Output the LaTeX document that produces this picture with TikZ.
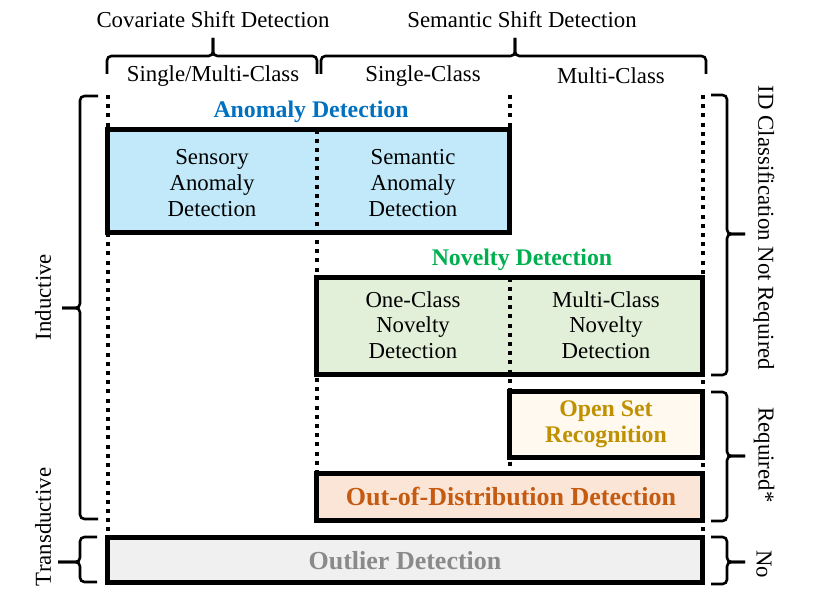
\documentclass[tikz,border=0pt]{standalone}
\usepackage{fontspec}
\setmainfont{Liberation Serif}
\definecolor{adtext}{HTML}{0070C0}
\definecolor{ndtext}{HTML}{00B050}
\definecolor{osrtext}{HTML}{BF9000}
\definecolor{oodtext}{HTML}{C55A11}
\definecolor{odtext}{HTML}{8A8A8A}
\definecolor{adfill}{HTML}{C1E9F9}
\definecolor{ndfill}{HTML}{E2F0D9}
\definecolor{osrfill}{HTML}{FFF9F0}
\definecolor{oodfill}{HTML}{FBE5D6}
\definecolor{odfill}{HTML}{F0F0F0}
\begin{document}
\begin{tikzpicture}[x=0.5pt,y=-0.5pt,
  lbl/.style={font=\fontsize{11.4}{12.8}\selectfont, inner sep=0pt, align=center},
  blbl/.style={font=\fontsize{11.9}{12.8}\selectfont\bfseries, inner sep=0pt, align=center},
  bigblbl/.style={font=\fontsize{13}{14}\selectfont\bfseries, inner sep=0pt, align=center},
  catbox/.style={draw=black, line width=2.2pt, inner sep=0pt},
  gridline/.style={line width=2pt, dash pattern=on 2pt off 2.6pt},
  bracepath/.style={line width=1.3pt, rounded corners=2.2pt},
]
\useasboundingbox (0,0) rectangle (813,599);

% top labels
\node[lbl] (cov) at (213,20) {Covariate Shift Detection};
\node[lbl] (sem) at (522,20) {Semantic Shift Detection};
\node[lbl] (col1) at (213,76) {Single/Multi-Class};
\node[lbl] (col2) at (423,76) {Single-Class};
\node[lbl] (col3) at (611,76) {Multi-Class};

% top braces
\draw[bracepath] (107,74) |- (213,56) -- (213,38);
\draw[bracepath] (213,38) -- (213,56) -| (317,74);
\draw[bracepath] (321,74) |- (515,56) -- (515,38);
\draw[bracepath] (515,38) -- (515,56) -| (706,74);

% boxes
\node[catbox, fill=adfill, minimum width=201pt, minimum height=51.5pt] (ad) at (308.5,181) {};
\node[catbox, fill=ndfill, minimum width=193pt, minimum height=48.5pt] (nd) at (509.5,326) {};
\node[catbox, fill=osrfill, minimum width=96.5pt, minimum height=33pt] (osr) at (606,424.5) {};
\node[catbox, fill=oodfill, minimum width=193pt, minimum height=23.5pt] (ood) at (509.5,497) {};
\node[catbox, fill=odfill, minimum width=297.5pt, minimum height=22.5pt] (od) at (405,560) {};

% dotted grid lines
\draw[gridline] (107.5,95) -- (107.5,537.5);
\draw[gridline] (316.5,129.5) -- (316.5,473.5);
\draw[gridline] (509.5,95) -- (509.5,129.5);
\draw[gridline] (509.5,277.5) -- (509.5,473.5);
\draw[gridline] (702.5,95) -- (702.5,537.5);

% box texts
\node[blbl, text=adtext] (adl) at (311,112) {Anomaly Detection};
\node[lbl] (sad) at (212,183) {Sensory\\Anomaly\\Detection};
\node[lbl] (semad) at (413,183) {Semantic\\Anomaly\\Detection};
\node[blbl, text=ndtext] (ndl) at (522,260) {Novelty Detection};
\node[lbl] (ocnd) at (413,325) {One-Class\\Novelty\\Detection};
\node[lbl] (mcnd) at (606,325) {Multi-Class\\Novelty\\Detection};
\node[blbl, text=osrtext] (osrl) at (606,424) {Open Set\\Recognition};
\node[bigblbl, text=oodtext] (oodl) at (511,496) {Out-of-Distribution Detection};
\node[bigblbl, text=odtext] (odl) at (405,561) {Outlier Detection};

% left braces
\draw[bracepath] (98,96) -| (80,308) -- (62,308);
\draw[bracepath] (62,308) -- (80,308) |- (98,519);
\draw[bracepath] (97,537) -| (80,562) -- (58,562);
\draw[bracepath] (58,562) -- (80,562) |- (97,582);
\node[lbl, rotate=90] (ind) at (43,297) {Inductive};
\node[lbl, rotate=90] (trans) at (43,527) {Transductive};

% right braces
\draw[bracepath] (711,95) -| (727,234) -- (745,234);
\draw[bracepath] (745,234) -- (727,234) |- (711,375);
\draw[bracepath] (711,392) -| (727,456) -- (745,456);
\draw[bracepath] (745,456) -- (727,456) |- (711,521);
\draw[bracepath] (711,537) -| (727,562) -- (745,562);
\draw[bracepath] (745,562) -- (727,562) |- (711,584);
\node[lbl, rotate=-90] (idnr) at (764,228) {ID Classification Not Required};
\node[lbl, rotate=-90] (req) at (764,455) {Required*};
\node[lbl, rotate=-90] (no) at (764,564) {No};
\end{tikzpicture}
\end{document}
